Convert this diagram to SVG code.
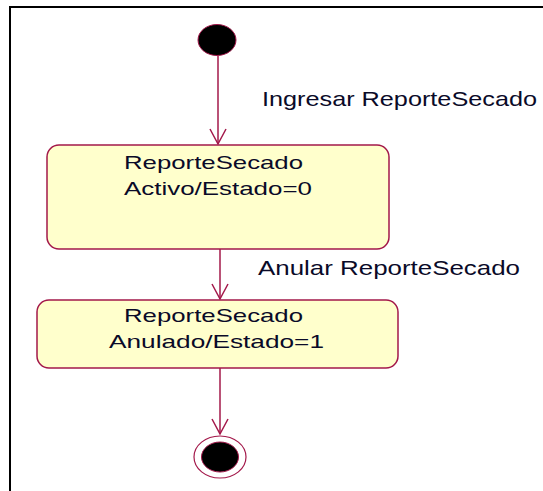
<svg xmlns="http://www.w3.org/2000/svg" width="543" height="491" viewBox="0 0 543 491">
<defs>
<style>
.st{fill:#ffffcc;stroke:#a3184a;stroke-width:1.5}
.ln{stroke:#a3184a;stroke-width:1.5;fill:none}
.t{font-family:"Liberation Sans",Arial,sans-serif;fill:#0a0a28}
.lb{font-size:21px}
.nt{font-size:19px}
</style>
<marker id="open" viewBox="0 0 20 20" refX="17" refY="10" markerWidth="20" markerHeight="20" markerUnits="userSpaceOnUse" orient="auto">
<path d="M2,2 L17,10 L2,18" class="ln"/>
</marker>
</defs>
<rect x="0" y="0" width="543" height="491" fill="#ffffff"/>
<rect x="10" y="7" width="700" height="700" fill="none" stroke="#000000" stroke-width="2"/>
<g id="connectors">
<line x1="218" y1="56" x2="218" y2="144" class="ln" marker-end="url(#open)"/>
<line x1="220" y1="249" x2="220" y2="299" class="ln" marker-end="url(#open)"/>
<line x1="220" y1="368" x2="220" y2="434" class="ln" marker-end="url(#open)"/>
<text class="t lb" x="262" y="106" textLength="275" lengthAdjust="spacingAndGlyphs">Ingresar ReporteSecado</text>
<text class="t lb" x="258" y="275" textLength="262" lengthAdjust="spacingAndGlyphs">Anular ReporteSecado</text>
</g>
<g id="start">
<ellipse cx="217" cy="40" rx="19" ry="15.5" fill="#000000" stroke="#a3184a" stroke-width="1"/>
</g>
<g id="activo">
<rect x="47" y="145" width="342" height="104" rx="12" ry="12" class="st"/>
<text class="t nt" x="124" y="169" textLength="179" lengthAdjust="spacingAndGlyphs">ReporteSecado</text>
<text class="t nt" x="124" y="195" textLength="188" lengthAdjust="spacingAndGlyphs">Activo/Estado=0</text>
</g>
<g id="anulado">
<rect x="37" y="300" width="361" height="68" rx="12" ry="12" class="st"/>
<text class="t nt" x="124" y="322" textLength="179" lengthAdjust="spacingAndGlyphs">ReporteSecado</text>
<text class="t nt" x="109" y="348" textLength="215" lengthAdjust="spacingAndGlyphs">Anulado/Estado=1</text>
</g>
<g id="end">
<ellipse cx="220" cy="457" rx="26" ry="21" fill="#ffffff" stroke="#a3184a" stroke-width="1.2"/>
<ellipse cx="220" cy="457" rx="18.5" ry="15" fill="#000000" stroke="#a3184a" stroke-width="1"/>
</g>
</svg>
